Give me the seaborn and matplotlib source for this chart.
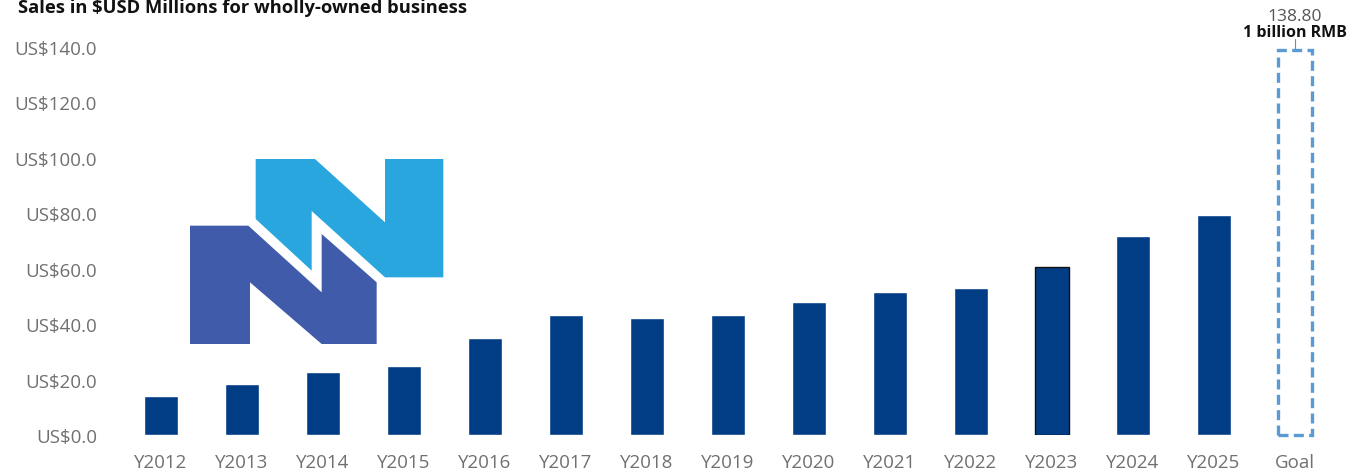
import matplotlib.pyplot as plt
import pandas as pd
import seaborn as sns
from matplotlib.patches import Polygon

years = ["Y2012", "Y2013", "Y2014", "Y2015", "Y2016", "Y2017", "Y2018",
         "Y2019", "Y2020", "Y2021", "Y2022", "Y2023", "Y2024", "Y2025", "Goal"]
sales = [14.1, 18.4, 22.7, 24.9, 35.0, 43.3, 42.2,
         43.3, 48.0, 51.6, 53.0, 60.6, 71.8, 79.4, 138.80]
y_ticks = [0, 20, 40, 60, 80, 100, 120, 140]
goal_label = "138.80"
goal_note = "1 billion RMB"
title = "Sales in $USD Millions for wholly-owned business"

df = pd.DataFrame({"year": years, "sales": sales})

sns.set_theme(style="white")
plt.rcParams["font.family"] = ["Open Sans", "DejaVu Sans"]

W, H = 1371, 477
fig = plt.figure(figsize=(W / 100, H / 100), dpi=100)
ax = fig.add_axes([120.5 / W, 1 - 436 / H, 1215 / W, 388 / H])

navy = "#003D84"
sns.barplot(data=df, x="year", y="sales", color=navy, width=0.41,
            saturation=1, ax=ax)

# goal bar: dashed outline only
goal = ax.patches[-1]
goal.set_facecolor("none")
goal.set_edgecolor("#5B9BD5")
goal.set_linewidth(2.4)
goal.set_linestyle((0, (3, 1.6)))
goal.set_clip_on(False)

# Y2023 has a thin dark outline
ax.patches[11].set_edgecolor("#111111")
ax.patches[11].set_linewidth(1.0)

ax.set_xlim(-0.5, 14.5)
ax.set_ylim(0, 140)
ax.set_yticks(y_ticks)
ax.set_yticklabels([f"US${v:.1f}" for v in y_ticks])
ax.tick_params(axis="y", length=0, pad=17, labelsize=13.5, labelcolor="#707070")
ax.tick_params(axis="x", length=0, pad=13, labelsize=13.5, labelcolor="#707070")
ax.set_xlabel("")
ax.set_ylabel("")
sns.despine(ax=ax, left=True, bottom=True)

gx = len(years) - 1
gv = sales[-1]
ax.text(gx, gv + 11.0, goal_label, ha="center", va="baseline", fontsize=12.5,
        color="#555555", clip_on=False)
ax.text(gx, gv + 5.2, goal_note, ha="center", va="baseline", fontsize=11.5,
        fontweight="bold", color="#111111", clip_on=False)
ax.plot([gx, gx], [gv + 0.3, gv + 4.0], color="#888888", lw=0.8,
        clip_on=False)

fig.text(18 / W, 1 - 13 / H, title, ha="left", va="baseline",
         fontsize=13.2, fontweight="bold", color="#111111")

# logo drawn from two polygons (zoom-space coordinates -> figure pixels)
def to_fig(pts):
    return [((130 + zx / 3) / W, 1 - (140 + zy / 3) / H) for zx, zy in pts]

light = [(377, 60), (555, 60), (765, 250), (765, 60), (940, 60), (940, 415),
         (765, 415), (545, 216), (545, 395), (377, 240)]
dark = [(180, 260), (355, 260), (575, 460), (575, 285), (740, 430),
        (740, 615), (575, 615), (360, 430), (360, 615), (180, 615)]
fig.patches.append(Polygon(to_fig(light), closed=True, facecolor="#29A6DE",
                           edgecolor="none", transform=fig.transFigure))
fig.patches.append(Polygon(to_fig(dark), closed=True, facecolor="#3F5BA9",
                           edgecolor="none", transform=fig.transFigure))

fig.savefig("out.png", dpi=100)
